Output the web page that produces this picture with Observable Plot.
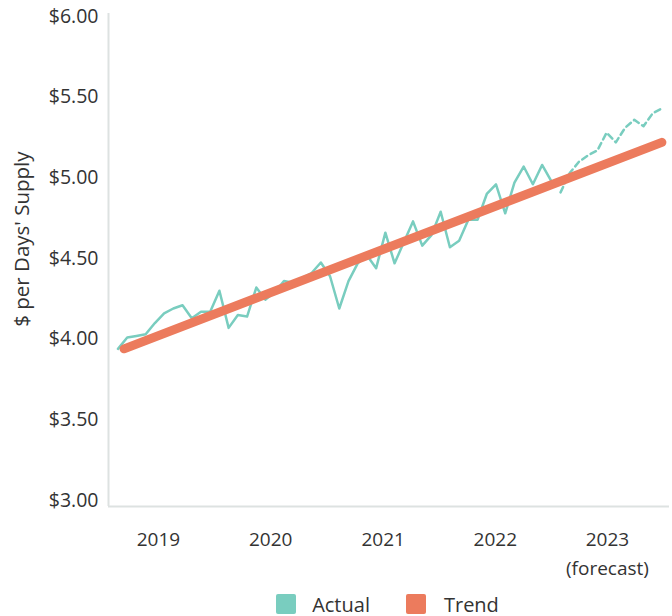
<!DOCTYPE html>
<html>
<head>
<meta charset="utf-8">
<script src="https://cdn.jsdelivr.net/npm/d3@7"></script>
<script src="https://cdn.jsdelivr.net/npm/@observablehq/plot@0.6"></script>
<style>
  body { margin: 0; background: #fff; font-family: "Open Sans", sans-serif; color: #333; }
  #chart svg { display: block; }
  #legend { display: flex; justify-content: center; align-items: center; margin-left: 107px; width: 561px; height: 20px; margin-top: 4px; font-size: 20px; color: #333; }
  .item { display: flex; align-items: center; }
  .sw { width: 20px; height: 20px; border-radius: 2px; margin-right: 16px; }
  .item + .item { margin-left: 36px; }
  .item + .item .sw { margin-right: 18px; }
</style>
</head>
<body>
<div id="chart"></div>
<div id="legend"></div>
<script>
// Actual readings, one every 30 days starting late Aug 2018
const actualValues = [
  3.94, 4.01, 4.02, 4.03, 4.10, 4.16, 4.19, 4.21, 4.13, 4.17, 4.17, 4.30,
  4.07, 4.15, 4.14, 4.32, 4.245, 4.29, 4.36, 4.35, 4.38, 4.41, 4.475, 4.39,
  4.19, 4.36, 4.47, 4.52, 4.44, 4.66, 4.47, 4.60, 4.73, 4.58, 4.645, 4.79,
  4.57, 4.61, 4.74, 4.74, 4.90, 4.96, 4.78, 4.97, 5.07, 4.96, 5.08, 4.98
];
// Forecast readings (dashed)
const forecastValues = [4.91, 5.03, 5.10, 5.14, 5.17, 5.28, 5.22, 5.31, 5.36, 5.32, 5.40, 5.43];
// Trend line end points
const trendDates = ["2018-09-11", "2023-06-27"];
const trendValues = [3.94, 5.22];
// Axis ticks
const yearTicks = [2019, 2020, 2021, 2022, 2023];
const yearLabels = ["2019", "2020", "2021", "2022", "2023\n(forecast)"];
const yTicks = [3.0, 3.5, 4.0, 4.5, 5.0, 5.5, 6.0];
const seriesNames = ["Actual", "Trend"];
const seriesColors = ["#79cdbf", "#ec7b5d"];

const DAY = 864e5;
const startMs = Date.UTC(2018, 7, 22, 6);
const stepDays = 30;
const actual = actualValues.map((v, i) => ({date: new Date(startMs + i * stepDays * DAY), value: v}));
const forecast = forecastValues.map((v, i) => ({date: new Date(startMs + (actualValues.length + i) * stepDays * DAY), value: v}));
const trend = trendDates.map((d, i) => ({date: new Date(d + "T00:00:00Z"), value: trendValues[i]}));

const xDomain = [new Date(Date.UTC(2018, 6, 22, 8)), new Date(Date.UTC(2023, 6, 21, 20))];
const yDomain = [3 - 6 / 161.3, 6 + 3 / 161.3];
const axisColor = "#dde2e1";

const chart = Plot.plot({
  width: 672,
  height: 590,
  marginLeft: 108,
  marginRight: 3,
  marginTop: 13,
  marginBottom: 84,
  style: {fontFamily: "'Open Sans', sans-serif", fontSize: "19px", color: "#333", background: "#fff"},
  x: {type: "utc", domain: xDomain, axis: null},
  y: {domain: yDomain, axis: null},
  marks: [
    Plot.ruleX([xDomain[0]], {stroke: axisColor, strokeWidth: 2}),
    Plot.ruleY([yDomain[0]], {stroke: axisColor, strokeWidth: 2}),
    Plot.axisY({
      ticks: yTicks, tickSize: 0, tickPadding: 10, fontSize: 19.5,
      tickFormat: d => "$" + d.toFixed(2), label: null
    }),
    Plot.axisX({
      ticks: yearTicks.map(y => new Date(Date.UTC(y, 0, 1))),
      tickSize: 0, tickPadding: 19, fontSize: 19, lineHeight: 1.53,
      tickFormat: d => yearLabels[yearTicks.indexOf(d.getUTCFullYear())],
      label: null
    }),
    Plot.text(["$ per Days' Supply"], {
      x: xDomain[0], y: 4.62, text: d => d, rotate: -90, dx: -86,
      textAnchor: "middle", lineAnchor: "middle", fontSize: 20.5, fill: "#333"
    }),
    Plot.line(actual, {x: "date", y: "value", stroke: seriesColors[0], strokeWidth: 2.5}),
    Plot.line(forecast, {x: "date", y: "value", stroke: seriesColors[0], strokeWidth: 2.5, strokeDasharray: "6,4"}),
    Plot.line(trend, {x: "date", y: "value", stroke: seriesColors[1], strokeWidth: 9, strokeLinecap: "round"})
  ]
});
document.getElementById("chart").append(chart);

const legend = document.getElementById("legend");
seriesNames.forEach((name, i) => {
  const item = document.createElement("div");
  item.className = "item";
  const sw = document.createElement("div");
  sw.className = "sw";
  sw.style.background = seriesColors[i];
  const label = document.createElement("span");
  label.textContent = name;
  item.append(sw, label);
  legend.append(item);
});
</script>
</body>
</html>
